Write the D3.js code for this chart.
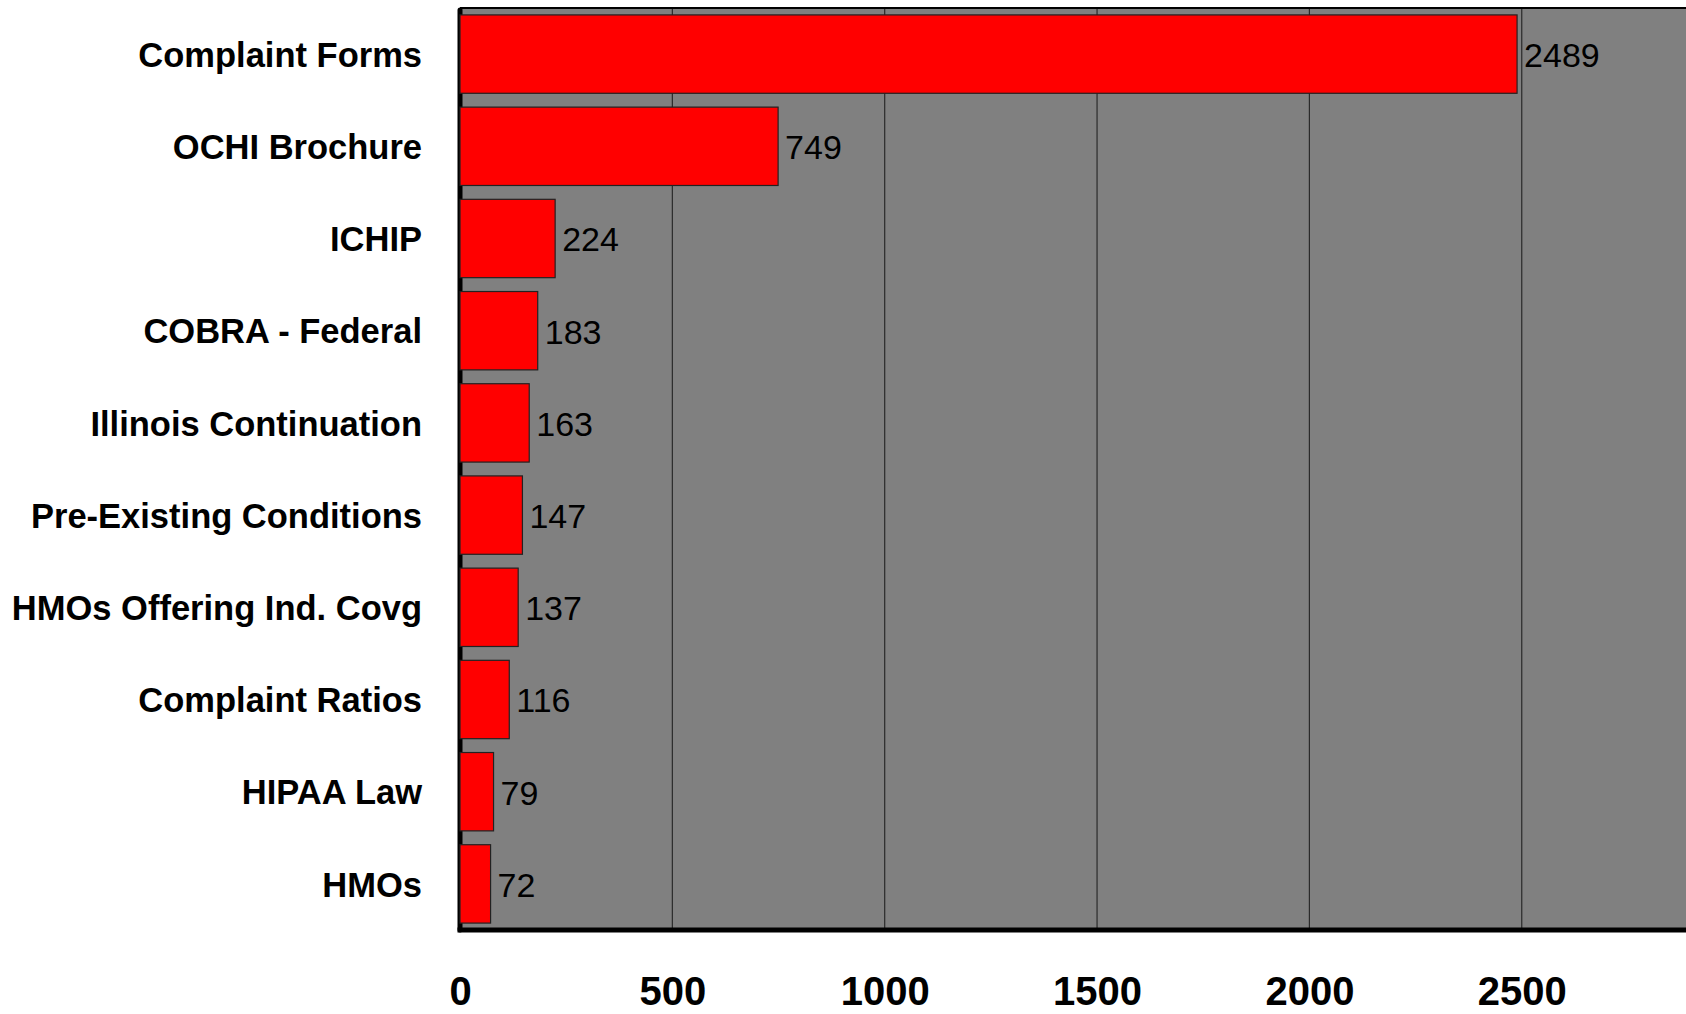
<!DOCTYPE html>
<html>
<head>
<meta charset="utf-8">
<script src="https://cdn.jsdelivr.net/npm/d3@7"></script>
<style>
  html, body { margin: 0; padding: 0; background: #ffffff; overflow: hidden; }
  svg { display: block; font-family: "Liberation Sans", Arial, Helvetica, sans-serif; }
</style>
</head>
<body>
<script>
// Requests for publications, by topic
const categories = [
  "Complaint Forms",
  "OCHI Brochure",
  "ICHIP",
  "COBRA - Federal",
  "Illinois Continuation",
  "Pre-Existing Conditions",
  "HMOs Offering Ind. Covg",
  "Complaint Ratios",
  "HIPAA Law",
  "HMOs"
];
const requests = [2489, 749, 224, 183, 163, 147, 137, 116, 79, 72];
const tickValues = [0, 500, 1000, 1500, 2000, 2500];
const axisMax = 3000;

const W = 1686, H = 1014;
const plot = { left: 460, top: 8, bottom: 930, unit500: 212.35 };
const plotRight = plot.left + plot.unit500 * 6;

const svg = d3.select("body").append("svg")
  .attr("width", W).attr("height", H);

const x = d3.scaleLinear().domain([0, axisMax]).range([plot.left, plotRight]);
const y = d3.scaleBand().domain(categories)
  .range([plot.top, plot.bottom])
  .paddingInner(0.15).paddingOuter(0.075);

svg.append("defs").append("clipPath").attr("id", "vp")
  .append("rect").attr("x", 0).attr("y", 0).attr("width", W).attr("height", H);

const g = svg.append("g").attr("clip-path", "url(#vp)");

// plot background
g.append("rect")
  .attr("x", x(0)).attr("y", plot.top)
  .attr("width", x(axisMax) - x(0)).attr("height", plot.bottom - plot.top)
  .attr("fill", "#808080");

// vertical gridlines
g.append("g").selectAll("line")
  .data(tickValues.filter(d => d > 0))
  .join("line")
  .attr("x1", d => x(d)).attr("x2", d => x(d))
  .attr("y1", plot.top).attr("y2", plot.bottom)
  .attr("stroke", "#2a2a2a").attr("stroke-width", 1.2);

// top border
g.append("line")
  .attr("x1", x(0)).attr("x2", x(axisMax))
  .attr("y1", plot.top).attr("y2", plot.top)
  .attr("stroke", "#000").attr("stroke-width", 2);

// left axis line
g.append("line")
  .attr("x1", x(0)).attr("x2", x(0))
  .attr("y1", plot.top + 2).attr("y2", plot.bottom)
  .attr("stroke", "#000").attr("stroke-width", 5).attr("stroke-linecap", "round");

// bars
g.append("g").selectAll("rect")
  .data(categories.map((c, i) => ({ c, v: requests[i] })))
  .join("rect")
  .attr("x", x(0))
  .attr("y", d => y(d.c))
  .attr("width", d => x(d.v) - x(0))
  .attr("height", y.bandwidth())
  .attr("fill", "#ff0000")
  .attr("stroke", "#222")
  .attr("stroke-width", 1.2);

// value labels
g.append("g").selectAll("text")
  .data(categories.map((c, i) => ({ c, v: requests[i] })))
  .join("text")
  .attr("x", d => x(d.v) + 7)
  .attr("y", d => y(d.c) + y.bandwidth() / 2)
  .attr("dy", "0.38em")
  .attr("font-size", 34)
  .attr("fill", "#000")
  .text(d => d.v);

// bottom axis line
g.append("line")
  .attr("x1", x(0) - 2.5).attr("x2", x(axisMax))
  .attr("y1", plot.bottom).attr("y2", plot.bottom)
  .attr("stroke", "#000").attr("stroke-width", 5);

// category axis
const yAxis = svg.append("g")
  .attr("transform", `translate(${x(0)},0)`)
  .call(d3.axisLeft(y).tickSize(0).tickPadding(38));
yAxis.select(".domain").remove();
yAxis.selectAll("text")
  .attr("font-size", 34.5)
  .attr("dy", "0.37em")
  .attr("font-weight", "bold")
  .attr("font-family", "'Liberation Sans', Arial, sans-serif")
  .attr("fill", "#000");

// value axis tick labels
const xAxis = svg.append("g")
  .attr("transform", `translate(0,${plot.bottom})`)
  .call(d3.axisBottom(x).tickValues(tickValues).tickSize(0).tickPadding(47).tickFormat(d3.format("d")));
xAxis.select(".domain").remove();
xAxis.selectAll("text")
  .attr("font-size", 40)
  .attr("font-weight", "bold")
  .attr("font-family", "'Liberation Sans', Arial, sans-serif")
  .attr("fill", "#000");
</script>
</body>
</html>
